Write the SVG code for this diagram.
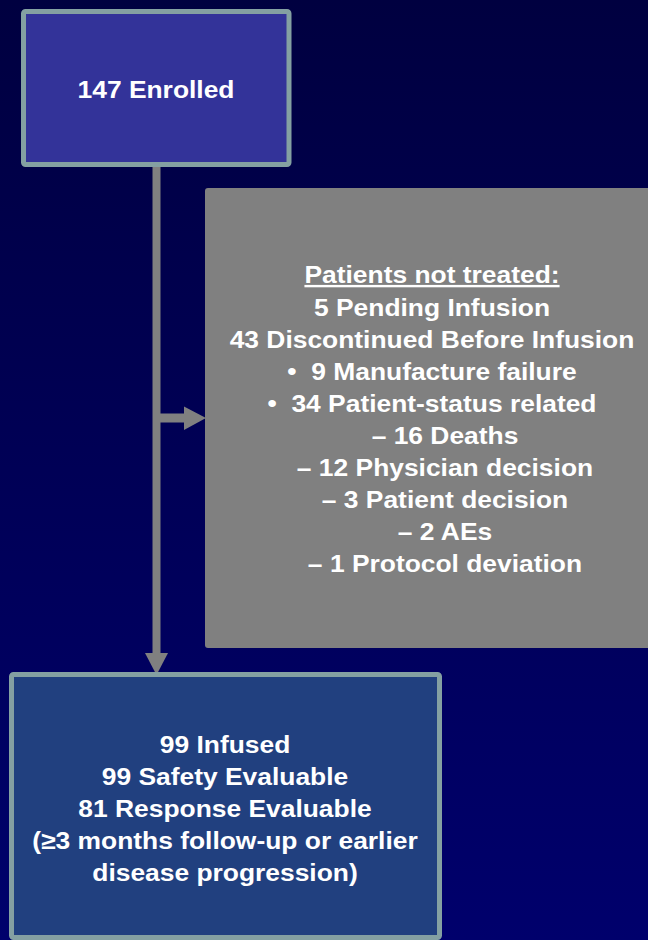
<svg xmlns="http://www.w3.org/2000/svg" width="648" height="940" viewBox="0 0 648 940">
  <defs>
    <linearGradient id="bg" x1="0" y1="0" x2="0" y2="1">
      <stop offset="0" stop-color="#000040"/>
      <stop offset="1" stop-color="#00006C"/>
    </linearGradient>
  </defs>
  <style>
    .t { font-family: "Liberation Sans", Arial, sans-serif; font-weight: bold; font-size: 24px; fill: #FFFFFF; text-anchor: middle; white-space: pre; }
    .box { stroke: #84A0A2; stroke-width: 5; }
    .conn { fill: #808080; }
  </style>
  <rect x="0" y="0" width="648" height="940" fill="url(#bg)"/>

  <g id="connectors">
    <rect class="conn" x="152.5" y="166" width="8" height="488"/>
    <polygon class="conn" points="145,653 168,653 156.5,675"/>
    <rect class="conn" x="160" y="413.5" width="25" height="9"/>
    <polygon class="conn" points="184,406.5 206,418 184,430"/>
  </g>

  <g id="enrolled">
    <rect class="box" x="23.5" y="11.5" width="265.5" height="153" rx="2" fill="#333399"/>
    <g transform="translate(156,0) scale(1.1,1)">
      <text class="t" x="0" y="98">147 Enrolled</text>
    </g>
  </g>

  <g id="not-treated">
    <rect x="205" y="188" width="446" height="460" rx="3" fill="#808080"/>
    <g transform="translate(432,0) scale(1.1,1)">
      <text class="t" x="0" y="283" text-decoration="underline">Patients not treated:</text>
      <text class="t" x="0" y="316.5">5 Pending Infusion</text>
      <text class="t" x="0" y="348">43 Discontinued Before Infusion</text>
      <text class="t" x="0" y="380">•  9 Manufacture failure</text>
      <text class="t" x="0" y="412">•  34 Patient-status related</text>
      <text class="t" x="11.8" y="444">– 16 Deaths</text>
      <text class="t" x="11.8" y="476">– 12 Physician decision</text>
      <text class="t" x="11.8" y="508">– 3 Patient decision</text>
      <text class="t" x="11.8" y="540">– 2 AEs</text>
      <text class="t" x="11.8" y="572">– 1 Protocol deviation</text>
    </g>
  </g>

  <g id="infused">
    <rect class="box" x="11.5" y="674.5" width="428" height="263" rx="2" fill="#21407F"/>
    <g transform="translate(225,0) scale(1.1,1)">
      <text class="t" x="0" y="753">99 Infused</text>
      <text class="t" x="0" y="785.5">99 Safety Evaluable</text>
      <text class="t" x="0" y="817">81 Response Evaluable</text>
      <text class="t" x="0" y="849">(≥3 months follow-up or earlier</text>
      <text class="t" x="0" y="881">disease progression)</text>
    </g>
  </g>
</svg>
